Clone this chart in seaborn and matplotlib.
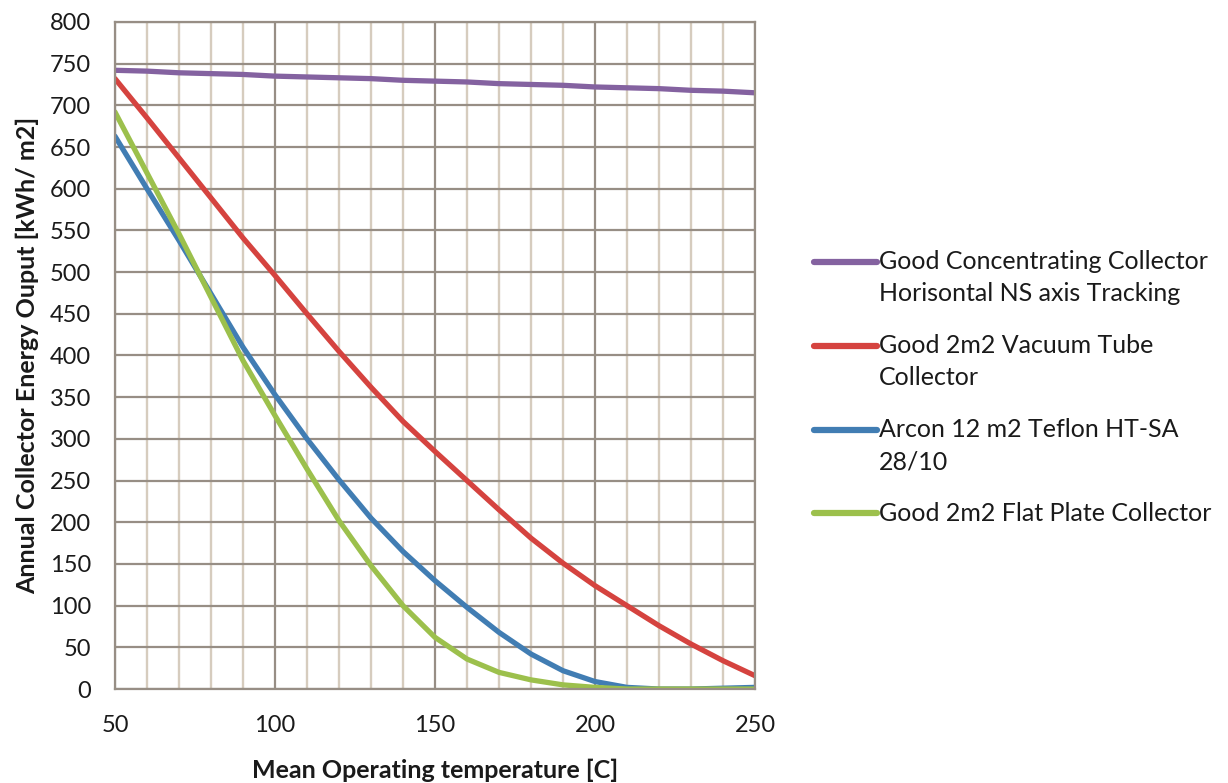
import numpy as np
import pandas as pd
import matplotlib
matplotlib.use("Agg")
import matplotlib.pyplot as plt
from matplotlib.ticker import MultipleLocator
import seaborn as sns

# temperatura media de operacion [C]
temperature = [50, 60, 70, 80, 90, 100, 110, 120, 130, 140, 150,
               160, 170, 180, 190, 200, 210, 220, 230, 240, 250]

# salida anual [kWh/m2]
concentrating = [742, 741, 739, 738, 737, 735, 734, 733, 732, 730, 729,
                 728, 726, 725, 724, 722, 721, 720, 718, 717, 715]
vacuum_tube = [732, 685, 637, 589, 541, 496, 450, 405, 362, 321, 285,
               250, 215, 181, 151, 124, 100, 76, 54, 34, 16]
arcon = [663, 600, 538, 474, 410, 353, 300, 251, 205, 165, 130,
         98, 68, 42, 22, 9, 2, 0, 0, 1, 2]
flat_plate = [692, 619, 546, 470, 394, 328, 264, 202, 148, 100, 62,
              36, 20, 11, 5, 2, 0, 0, 0, 0, 0]

series_names = ["Good Concentrating Collector\nHorisontal NS axis Tracking",
                "Good 2m2 Vacuum Tube\nCollector",
                "Arcon 12 m2 Teflon HT-SA\n28/10",
                "Good 2m2 Flat Plate Collector"]
series_colors = ["#8462a0", "#d5433f", "#417db3", "#9cc04c"]

frames = []
for name, vals in zip(series_names, [concentrating, vacuum_tube, arcon, flat_plate]):
    frames.append(pd.DataFrame({"temp": temperature, "output": vals, "serie": name}))
data = pd.concat(frames, ignore_index=True)

sns.set_style("white")
plt.rcParams["font.family"] = ["Lato", "DejaVu Sans"]

fig = plt.figure(figsize=(12.28, 7.83), dpi=100)
ax = fig.add_axes([0.0936, 0.12, 0.5212, 0.852])

sns.lineplot(data=data, x="temp", y="output", hue="serie", hue_order=series_names,
             palette=series_colors, linewidth=3.8, ax=ax, legend=True,
             solid_capstyle="round")

ax.set_xlim(50, 250)
ax.set_ylim(0, 800)
ax.xaxis.set_major_locator(MultipleLocator(50))
ax.xaxis.set_minor_locator(MultipleLocator(10))
ax.yaxis.set_major_locator(MultipleLocator(50))

grid_dark = "#978e85"
grid_light = "#d6ccbe"
ax.grid(which="minor", axis="x", color=grid_light, linewidth=1.7)
ax.grid(which="major", axis="both", color=grid_dark, linewidth=1.6)
ax.set_axisbelow(True)
for sp in ax.spines.values():
    sp.set_color(grid_dark)
    sp.set_linewidth(1.6)

ax.tick_params(which="both", length=0, labelsize=17, colors="#1a1a1a")
ax.tick_params(axis="y", pad=17)
ax.tick_params(axis="x", pad=19)

ax.set_xlabel("Mean Operating temperature [C]", fontsize=18, fontweight="bold", labelpad=16,
              color="#1a1a1a")
ax.set_ylabel("Annual Collector Energy Ouput [kWh/ m2]", fontsize=18, fontweight="bold",
              labelpad=8, color="#1a1a1a")

handles, labels = ax.get_legend_handles_labels()
ax.get_legend().remove()
leg = fig.legend(handles, labels, loc="center left", bbox_to_anchor=(0.663, 0.505),
                 frameon=False, fontsize=18, handlelength=2.5, handletextpad=0.1,
                 labelspacing=1.15, borderaxespad=0, borderpad=0)
for t in leg.get_texts():
    t.set_linespacing(1.5)
    t.set_color("#1a1a1a")
# el marcador va a la altura de la primera linea del texto
for line, lab in zip(leg.get_lines(), labels):
    line.set_linewidth(4.5)
    if "\n" in lab:
        line.set_ydata(np.asarray(line.get_ydata()) + 12)

fig.savefig("out.png", dpi=100)
